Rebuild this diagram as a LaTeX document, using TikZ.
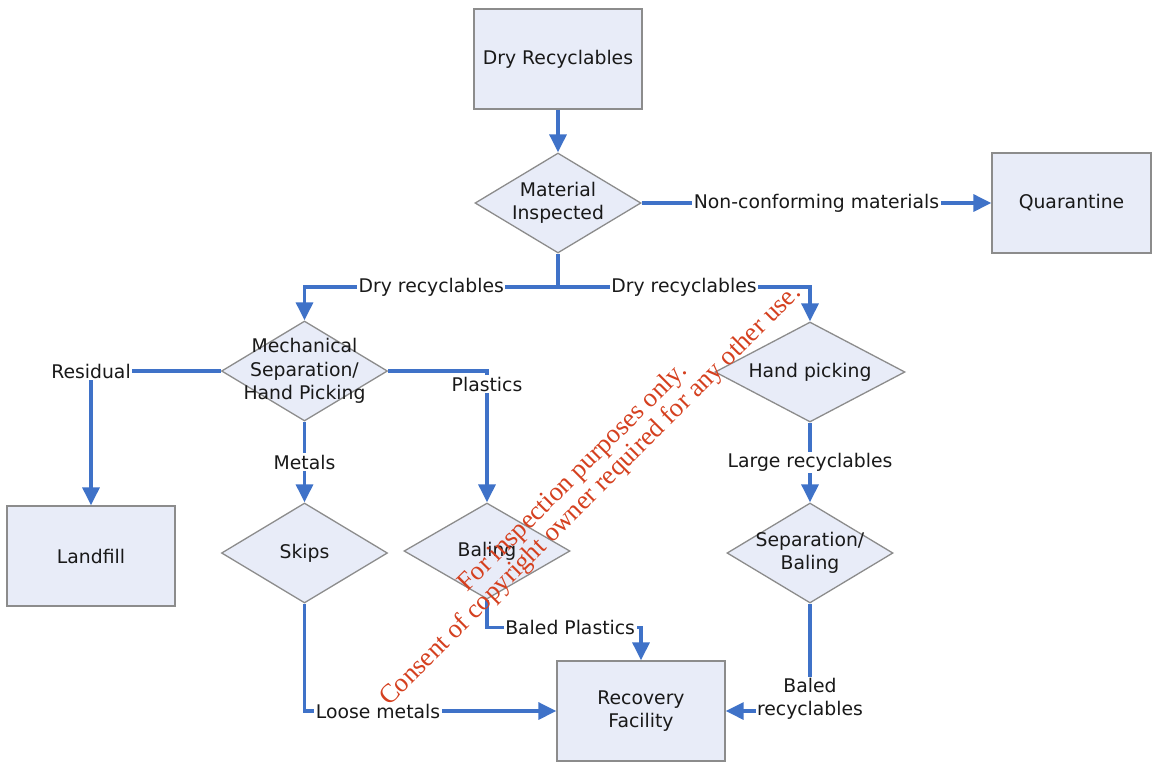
\documentclass[tikz,border=0pt]{standalone}
\usepackage{fontspec}
\setmainfont{DejaVu Sans}
\newfontfamily\wmfont{Liberation Serif}
\usetikzlibrary{shapes.geometric,arrows.meta}
\definecolor{flowblue}{HTML}{3F72C8}
\definecolor{boxfill}{HTML}{E8ECF8}
\definecolor{boxline}{HTML}{8C8C8C}
\definecolor{stamp}{HTML}{D5401F}
\begin{document}
\begin{tikzpicture}[x=1pt,y=-1pt,
  txt/.style={font=\fontsize{18.8}{23.5}\selectfont, align=center, text=black!90, inner sep=0pt},
  base/.style={txt, draw=boxline, line width=1.3pt, fill=boxfill},
  procbox/.style={base, rectangle, minimum width=168pt, minimum height=100pt},
  decision/.style={base, diamond, minimum width=166pt, minimum height=100pt},
  lbl/.style={txt, fill=white, inner sep=1.5pt},
  flow/.style={draw=flowblue, line width=3.2pt, -{Triangle[length=18pt,width=17pt]}},
  plain/.style={draw=flowblue, line width=3.2pt},
  wm/.style={font=\wmfont\fontsize{26.5}{25.5}\selectfont, text=stamp, align=center, inner sep=0pt}]
\useasboundingbox (0,0) rectangle (1152,761);
\fill[white] (0,0) rectangle (1152,761);

% process boxes
\node[procbox] (dry) at (558,59) {Dry Recyclables};
\node[procbox, minimum width=159pt] (quar) at (1071.5,203) {Quarantine};
\node[procbox] (land) at (91,556) {Landfill};
\node[procbox] (rec) at (641,711) {Recovery\\Facility};

% decisions (text set separately so it may overhang the outline)
\node[decision] (insp) at (558,203) {};
\node[txt] (insp-t) at (insp) {Material\\Inspected};
\node[decision] (mech) at (304.5,371) {};
\node[txt] (mech-t) at (mech) {Mechanical\\Separation/\\Hand Picking};
\node[decision, minimum width=190pt] (hand) at (810,372) {};
\node[txt] (hand-t) at (hand) {Hand picking};
\node[decision] (skip) at (304.5,553) {};
\node[txt] (skip-t) at (skip) {Skips};
\node[decision, minimum height=96pt] (bale) at (487,551) {};
\node[txt] (bale-t) at (bale) {Baling};
\node[decision] (sepb) at (810,553) {};
\node[txt] (sepb-t) at (sepb) {Separation/\\Baling};

% connectors
\draw[flow] (dry) -- (insp);
\draw[flow] (insp) -- (quar) node[lbl, midway] (ncm) {Non-conforming materials};
\coordinate (fork) at (insp.south |- 0,287);
\draw[plain] (insp.south) -- (fork);
\draw[flow] (fork) -| (mech.north) node[lbl, pos=0.25] (dry-l) {Dry recyclables};
\draw[flow] (fork) -| (hand.north) node[lbl, pos=0.25] (dry-r) {Dry recyclables};
\draw[flow] (mech.west) -| (land.north) node[lbl, pos=0.5] (resid) {Residual};
\draw[flow] (mech.east) -| (bale.north) node[lbl, pos=0.55] (plast) {Plastics};
\draw[flow] (mech.south) -- (skip.north) node[lbl, midway] (metal) {Metals};
\draw[flow] (skip.south) |- (rec.west) node[lbl, pos=0.646] (loose) {Loose metals};
\draw[flow] (bale.south) -- ++(0,28) -| (rec.north) node[lbl, pos=0.27] (bplast) {Baled Plastics};
\draw[flow] (hand.south) -- (sepb.north) node[lbl, midway] (large) {Large recyclables};
\draw[flow] (sepb.south) |- (rec.east) node[lbl, pos=0.5, yshift=12pt] (brec) {Baled\\recyclables};

% stamp across the sheet
\node[wm, rotate=45] (stampnote) at (582,487) {For inspection purposes only.\\Consent of copyright owner required for any other use.};
\end{tikzpicture}
\end{document}
